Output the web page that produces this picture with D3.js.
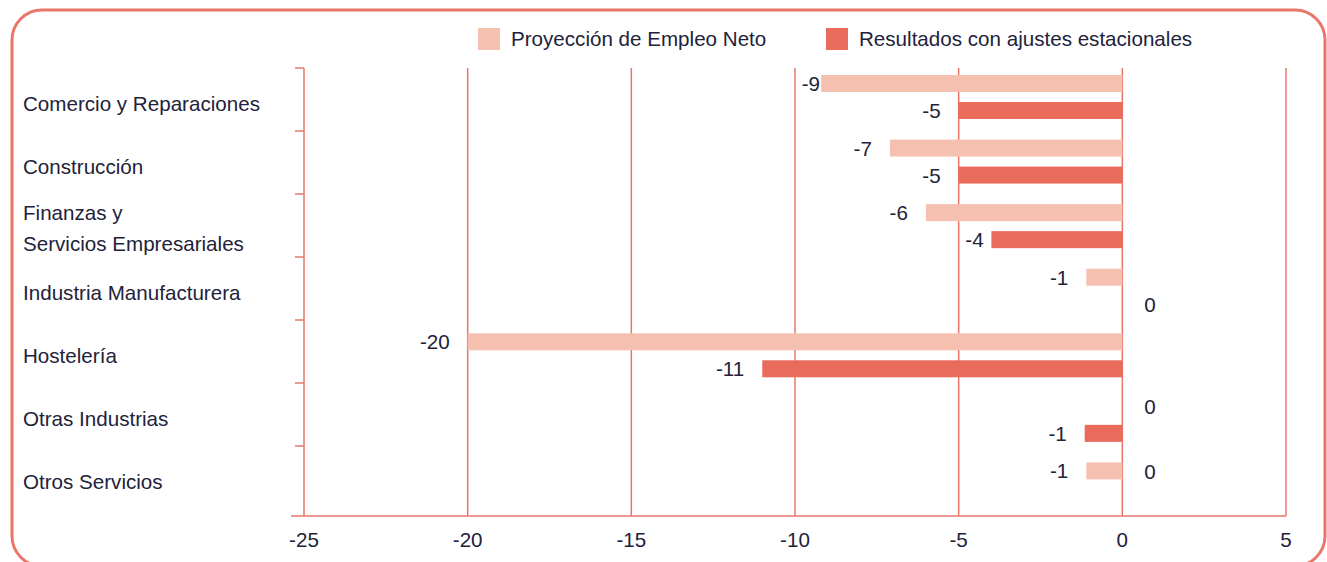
<!DOCTYPE html>
<html>
<head>
<meta charset="utf-8">
<script src="https://cdn.jsdelivr.net/npm/d3@7"></script>
<style>
  body { margin: 0; background: #fff; }
  svg text { font-family: "Liberation Sans", Arial, sans-serif; fill: #22223a; font-size: 20.6px; }
</style>
</head>
<body>
<svg id="chart" width="1327" height="562"></svg>
<script>
// data
var categories = [
  'Comercio y Reparaciones',
  'Construcción',
  'Finanzas y|Servicios Empresariales',
  'Industria Manufacturera',
  'Hostelería',
  'Otras Industrias',
  'Otros Servicios'
];
var proyeccion = [-9.2, -7.1, -6, -1.1, -20, 0, -1.1];
var ajustados = [-5, -5, -4, 0, -11, -1.15, 0];
var seriesNames = ['Proyección de Empleo Neto', 'Resultados con ajustes estacionales'];
var xTicks = [-25, -20, -15, -10, -5, 0, 5];

var pink = '#f6c0b0', red = '#e96b5c', line = '#e8776a';

var svg = d3.select('#chart');

// rounded frame
svg.append('rect')
    .attr('x', 12).attr('y', 10)
    .attr('width', 1313).attr('height', 556)
    .attr('rx', 30).attr('ry', 30)
    .attr('fill', 'none')
    .attr('stroke', line)
    .attr('stroke-width', 3);

var x = d3.scaleLinear().domain([-25, 5]).range([304, 1286]);

var y = d3.scaleBand().domain(categories).range([68, 509]);     // ticks + labels
var yBar = d3.scaleBand().domain(categories).range([68, 520]);  // bar rows drift a bit lower
var barH = 17;

var fmt = function(v){ return String(Math.round(v)); };

// vertical grid lines
svg.append('g')
    .selectAll('line')
    .data(xTicks.slice(1))
    .enter().append('line')
    .attr('x1', function(d){return x(d);})
    .attr('x2', function(d){return x(d);})
    .attr('y1', 68).attr('y2', 516)
    .attr('stroke', line)
    .attr('stroke-width', 1.5);

// left axis line + tick marks
svg.append('line')
    .attr('x1', x(-25)).attr('x2', x(-25))
    .attr('y1', 68).attr('y2', 516)
    .attr('stroke', line).attr('stroke-width', 1.5);

svg.append('g')
    .selectAll('line')
    .data(categories)
    .enter().append('line')
    .attr('x1', x(-25) - 9).attr('x2', x(-25))
    .attr('y1', function(d){return y(d);})
    .attr('y2', function(d){return y(d);})
    .attr('stroke', line).attr('stroke-width', 1.5);

// bottom axis line
svg.append('line')
    .attr('x1', x(-25) - 13).attr('x2', x(5))
    .attr('y1', 516).attr('y2', 516)
    .attr('stroke', line).attr('stroke-width', 1.5);

// x tick labels
svg.append('g')
    .selectAll('text')
    .data(xTicks)
    .enter().append('text')
    .attr('x', function(d){return x(d);})
    .attr('y', 547)
    .attr('text-anchor', 'middle')
    .text(function(d){return d;});

// category labels
var catLabels = svg.append('g')
    .selectAll('text')
    .data(categories)
    .enter().append('text')
    .attr('x', 23)
    .attr('y', function(d){
      var lines = d.split('|').length;
      return y(d) + y.bandwidth() / 2 + 11 - (lines - 1) * 17;
    });

catLabels.selectAll('tspan')
    .data(function(d){return d.split('|');})
    .enter().append('tspan')
    .attr('x', 23)
    .attr('dy', function(d, i){return i ? 31 : 0;})
    .text(function(d){return d;});

// bars
var rows = [
  {values: proyeccion, color: pink, offset: 15.5},
  {values: ajustados, color: red, offset: 42.5}
];

var gridVals = xTicks.map(function(t){return x(t);});

rows.forEach(function(row){
  var g = svg.append('g');
  var data = categories.map(function(c, i){ return {cat: c, v: row.values[i]}; });

  g.selectAll('rect')
      .data(data.filter(function(d){return d.v !== 0;}))
      .enter().append('rect')
      .attr('x', function(d){return x(d.v);})
      .attr('y', function(d){return yBar(d.cat) + row.offset - barH / 2;})
      .attr('width', function(d){return x(0) - x(d.v);})
      .attr('height', barH)
      .attr('fill', row.color);

  g.selectAll('text')
      .data(data)
      .enter().append('text')
      .attr('y', function(d){
        // keep labels clear of the bottom axis
        return Math.min(yBar(d.cat) + row.offset + 7.5, 479);
      })
      .attr('text-anchor', function(d){return d.v === 0 ? 'start' : 'end';})
      .attr('x', function(d){
        if (d.v === 0) return x(0) + 22;
        var end = x(d.v) - 18;
        // keep the label off a grid line
        var w = fmt(d.v).length * 11;
        gridVals.forEach(function(gx){
          if (gx > end - w - 2 && gx < end + 2) end = gx + 3 + w;
        });
        return end;
      })
      .text(function(d){return fmt(d.v);});
});

// legend
var legend = svg.append('g')
    .selectAll('g')
    .data(seriesNames)
    .enter().append('g')
    .attr('transform', function(d, i){return 'translate(' + (i ? 826 : 478) + ',28)';});

legend.append('rect')
    .attr('width', 22).attr('height', 22)
    .attr('fill', function(d, i){return i ? red : pink;});

legend.append('text')
    .attr('x', 33).attr('y', 18)
    .text(function(d){return d;});
</script>
</body>
</html>
